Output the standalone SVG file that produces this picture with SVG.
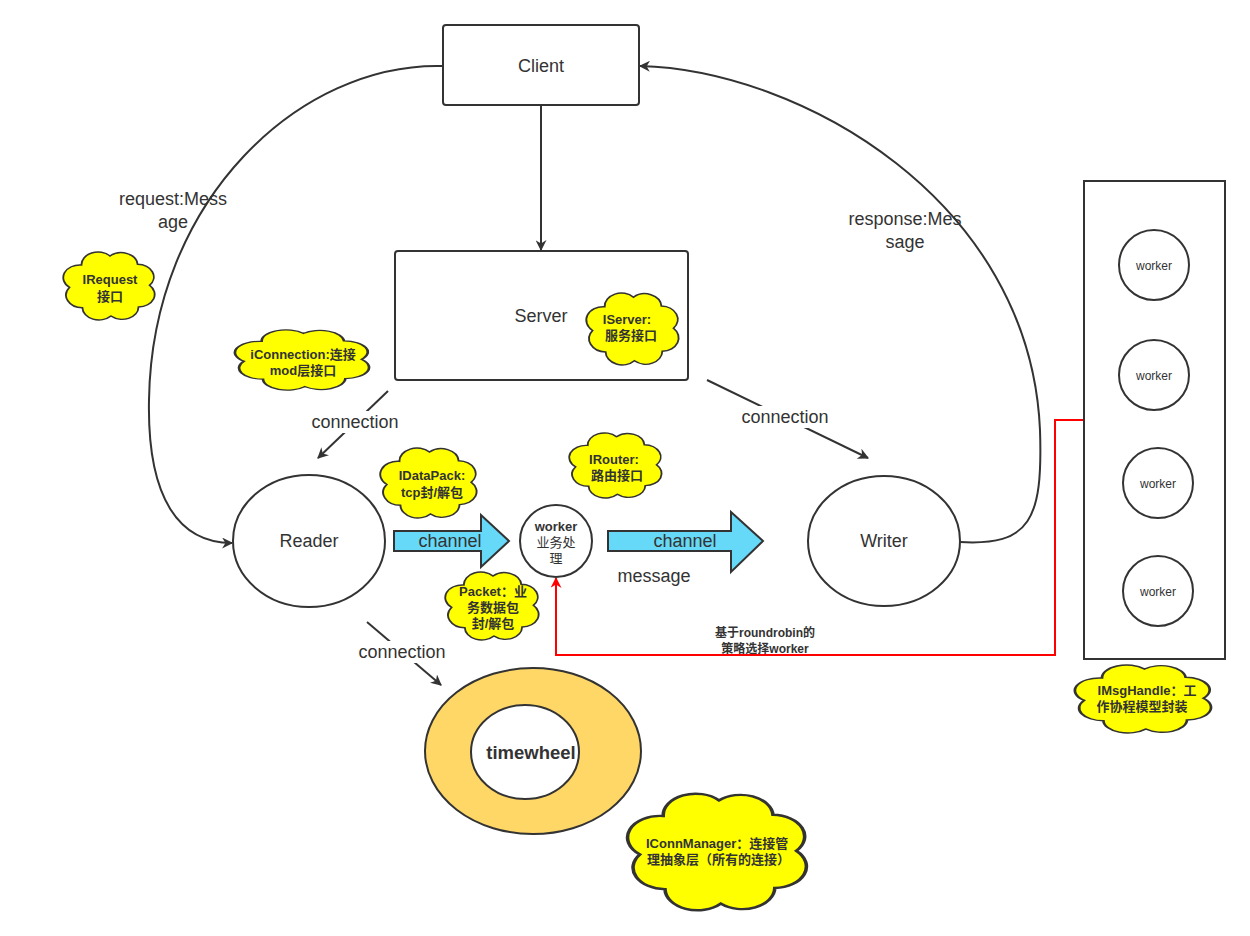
<svg xmlns="http://www.w3.org/2000/svg" width="1250" height="936" viewBox="0 0 1250 936">
<style>
.box{fill:#fff;stroke:#333;stroke-width:2}
.lbl{font-family:"Liberation Sans","Noto Sans CJK SC",sans-serif;font-size:18px;fill:#333;text-anchor:middle}
.cl{fill:#ffff00;stroke:#333;stroke-width:2;vector-effect:non-scaling-stroke}
.ct{font-family:"Liberation Sans","Noto Sans CJK SC",sans-serif;font-size:13px;font-weight:bold;fill:#333;text-anchor:middle}
.edge{fill:none;stroke:#333;stroke-width:2}
.chan{fill:#66d9f8;stroke:#333;stroke-width:2}
.wk{font-family:"Liberation Sans","Noto Sans CJK SC",sans-serif;font-size:12px;fill:#333;text-anchor:middle}
</style>
<defs>
<marker id="ah" viewBox="0 0 10 10" refX="9" refY="5" markerWidth="12" markerHeight="11" markerUnits="userSpaceOnUse" orient="auto">
<path d="M0,0 L10,5 L0,10 L3,5 Z" fill="#333"/>
</marker>
<marker id="ahr" viewBox="0 0 10 10" refX="9" refY="5" markerWidth="12" markerHeight="11" markerUnits="userSpaceOnUse" orient="auto">
<path d="M0,0 L10,5 L0,10 L3,5 Z" fill="#ff0000"/>
</marker>
<path id="cloud" d="M6,52 A18,18 0 0 1 19,20 A18,18 0 0 1 50,7 A18,18 0 0 1 80,19 A18,18 0 0 1 93,49 A18,18 0 0 1 81,80 A18,18 0 0 1 51,93 A18,18 0 0 1 20,81 A18,18 0 0 1 6,52 Z"/>
</defs>
<rect width="1250" height="936" fill="#fff"/>

<g id="connectors">
<line class="edge" x1="541" y1="106" x2="541" y2="250" marker-end="url(#ah)"/>
<path class="edge" d="M443,66 C300,62 152,200 149,400 C147,500 180,543 232,543" marker-end="url(#ah)"/>
<path class="edge" d="M960,542 C1030,546 1043,520 1040,430 C1030,200 800,70 640,66" marker-end="url(#ah)"/>
<line class="edge" x1="388" y1="391" x2="318" y2="458" marker-end="url(#ah)"/>
<line class="edge" x1="707" y1="380" x2="868" y2="458" marker-end="url(#ah)"/>
<line class="edge" x1="367" y1="622" x2="441" y2="685" marker-end="url(#ah)"/>
<polyline fill="none" stroke="#ff0000" stroke-width="2" points="1084,420 1055,420 1055,655 556,655 556,578" marker-end="url(#ahr)"/>
<rect x="305" y="411" width="100" height="22" fill="#fff"/>
<text class="lbl" x="355" y="428">connection</text>
<rect x="735" y="406" width="100" height="22" fill="#fff"/>
<text class="lbl" x="785" y="423">connection</text>
<rect x="352" y="641" width="100" height="22" fill="#fff"/>
<text class="lbl" x="402" y="658">connection</text>
<text class="lbl" x="173" y="205">request:Mess</text>
<text class="lbl" x="173" y="228">age</text>
<text class="lbl" x="905" y="225">response:Mes</text>
<text class="lbl" x="905" y="248">sage</text>
<text class="lbl" x="654" y="582">message</text>
<text class="ct" x="765" y="637" style="font-size:12px">基于roundrobin的</text>
<text class="ct" x="765" y="653" style="font-size:12px">策略选择worker</text>
</g>

<g id="client">
<rect class="box" x="443" y="25" width="196" height="80" rx="3"/>
<text class="lbl" x="541" y="72">Client</text>
</g>
<g id="server">
<rect class="box" x="395" y="251" width="293" height="129" rx="3"/>
<text class="lbl" x="541" y="322">Server</text>
</g>
<g id="reader">
<ellipse class="box" cx="309" cy="541" rx="76" ry="66"/>
<text class="lbl" x="309" y="547">Reader</text>
</g>
<g id="writer">
<ellipse class="box" cx="884" cy="541" rx="76" ry="65"/>
<text class="lbl" x="884" y="547">Writer</text>
</g>
<g id="channel1">
<path class="chan" d="M394,531 H481 V515 L509,541 L481,567 V551 H394 Z"/>
<text class="lbl" x="450" y="547">channel</text>
</g>
<g id="channel2">
<path class="chan" d="M608,531 H731 V512 L763,541 L731,572 V551 H608 Z"/>
<text class="lbl" x="685" y="547">channel</text>
</g>
<g id="worker">
<circle class="box" cx="556" cy="541" r="36"/>
<text class="ct" x="556" y="531">worker</text>
<text class="ct" x="556" y="547" style="font-weight:normal">业务处</text>
<text class="ct" x="556" y="563" style="font-weight:normal">理</text>
</g>
<g id="timewheel">
<ellipse cx="533" cy="751" rx="108" ry="83" fill="#fed766" stroke="#333" stroke-width="2"/>
<ellipse cx="525" cy="752" rx="54" ry="47" fill="#fff" stroke="#333" stroke-width="2"/>
<text x="531" y="759" text-anchor="middle" font-family="Liberation Sans, sans-serif" font-size="18.5" font-weight="bold" fill="#333">timewheel</text>
</g>
<g id="workers">
<rect class="box" x="1084" y="181" width="141" height="478"/>
<circle class="box" cx="1154" cy="265" r="35"/>
<text class="wk" x="1154" y="270">worker</text>
<circle class="box" cx="1154" cy="375" r="35"/>
<text class="wk" x="1154" y="380">worker</text>
<circle class="box" cx="1158" cy="483" r="35"/>
<text class="wk" x="1158" y="488">worker</text>
<circle class="box" cx="1158" cy="591" r="35"/>
<text class="wk" x="1158" y="596">worker</text>
</g>

<g id="cloud-irequest">
<use href="#cloud" class="cl" transform="translate(64,251) scale(0.92,0.7)"/>
<text class="ct" x="110" y="284">IRequest</text>
<text class="ct" x="110" y="301">接口</text>
</g>
<g id="cloud-iconnection">
<use href="#cloud" class="cl" transform="translate(236,329) scale(1.35,0.62)"/>
<text class="ct" x="303" y="359">iConnection:连接</text>
<text class="ct" x="303" y="375">mod层接口</text>
</g>
<g id="cloud-idatapack">
<use href="#cloud" class="cl" transform="translate(381,447) scale(0.97,0.72)"/>
<text class="ct" x="432" y="480">IDataPack:</text>
<text class="ct" x="432" y="497">tcp封/解包</text>
</g>
<g id="cloud-iserver">
<use href="#cloud" class="cl" transform="translate(587,292) scale(0.93,0.74)"/>
<text class="ct" x="627" y="324">IServer:</text>
<text class="ct" x="631" y="340">服务接口</text>
</g>
<g id="cloud-irouter">
<use href="#cloud" class="cl" transform="translate(570,432) scale(0.93,0.67)"/>
<text class="ct" x="614" y="464">IRouter:</text>
<text class="ct" x="617" y="480">路由接口</text>
</g>
<g id="cloud-packet">
<use href="#cloud" class="cl" transform="translate(446,571) scale(0.94,0.7)"/>
<text class="ct" x="493" y="596">Packet：业</text>
<text class="ct" x="493" y="612">务数据包</text>
<text class="ct" x="493" y="628">封/解包</text>
</g>
<g id="cloud-imsghandle">
<use href="#cloud" class="cl" transform="translate(1076,664) scale(1.37,0.7)"/>
<text class="ct" x="1147" y="695">IMsgHandle：工</text>
<text class="ct" x="1142" y="711">作协程模型封装</text>
</g>
<g id="cloud-iconnmanager">
<use href="#cloud" class="cl" transform="translate(629,792) scale(1.8,1.2)"/>
<text class="ct" x="646" y="848" style="text-anchor:start">IConnManager：连接管</text>
<text class="ct" x="647" y="864" style="text-anchor:start">理抽象层（所有的连接）</text>
</g>
</svg>
